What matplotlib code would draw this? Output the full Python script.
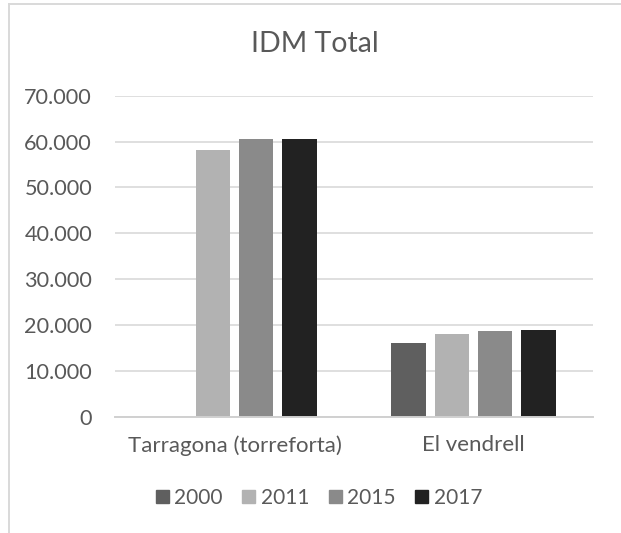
import numpy as np
import matplotlib
matplotlib.use("Agg")
import matplotlib.pyplot as plt
from matplotlib.lines import Line2D
from matplotlib.ticker import FuncFormatter

# Data
categories = ["Tarragona (torreforta)", "El vendrell"]
years = ["2000", "2011", "2015", "2017"]
idm_2000 = [0, 16100]
idm_2011 = [58200, 18000]
idm_2015 = [60600, 18700]
idm_2017 = [60600, 19000]
colors = ["#5f5f5f", "#b2b2b2", "#8a8a8a", "#222222"]

series = [idm_2000, idm_2011, idm_2015, idm_2017]

TEXT = "#595959"
GRID = "#d9d9d9"
plt.rcParams["font.family"] = ["Lato", "DejaVu Sans"]

W, H = 621, 533
fig = plt.figure(figsize=(W / 100, H / 100), dpi=100)
ax = fig.add_axes([115 / W, 1 - 416.7 / H, (593 - 115) / W, (416.7 - 95.7) / H])

x = np.arange(len(categories))
slot = 0.1813
width = 0.1424
handles = []
for i, (vals, c, y) in enumerate(zip(series, colors, years)):
    offs = (i - 1.5) * slot
    ax.bar(x + offs, vals, width=width, color=c, zorder=3, linewidth=0)
    handles.append(plt.Rectangle((0, 0), 1, 1, color=c, label=y))

ax.set_xlim(-0.5, 1.5)
ax.set_ylim(0, 70000)
ax.set_yticks(np.arange(0, 70001, 10000))
ax.yaxis.set_major_formatter(FuncFormatter(lambda v, p: f"{int(v):,}".replace(",", ".")))
ax.set_xticks(x)
ax.set_xticklabels(categories)
ax.grid(axis="y", color=GRID, linewidth=1.2, zorder=0)
for s in ["top", "right", "left"]:
    ax.spines[s].set_visible(False)
ax.spines["bottom"].set_color("#d0d0d0")
ax.spines["bottom"].set_linewidth(1.4)
ax.spines["bottom"].set_zorder(4)
ax.tick_params(axis="both", length=0, colors=TEXT)
ax.tick_params(axis="y", pad=16.5, labelsize=15.6)
ax.tick_params(axis="x", pad=13.5, labelsize=16)

fig.text(315 / W, 1 - 44 / H, "IDM Total", ha="center", va="center",
         fontsize=20.5, color=TEXT)

fig.legend(handles=handles, loc="center", bbox_to_anchor=(319 / W, 1 - 498 / H),
           ncol=4, frameon=False, fontsize=15, labelcolor=TEXT,
           handlelength=0.625, handleheight=0.625, handletextpad=0.25,
           columnspacing=0.95)

# Chart area frame (top and left edges)
fig.add_artist(Line2D([8.5 / W, 1.0], [1 - 4 / H, 1 - 4 / H], color=GRID,
                      linewidth=1.4, transform=fig.transFigure))
fig.add_artist(Line2D([8.5 / W, 8.5 / W], [0, 1 - 4 / H], color=GRID,
                      linewidth=1.4, transform=fig.transFigure))

fig.savefig("out.png", dpi=100)
